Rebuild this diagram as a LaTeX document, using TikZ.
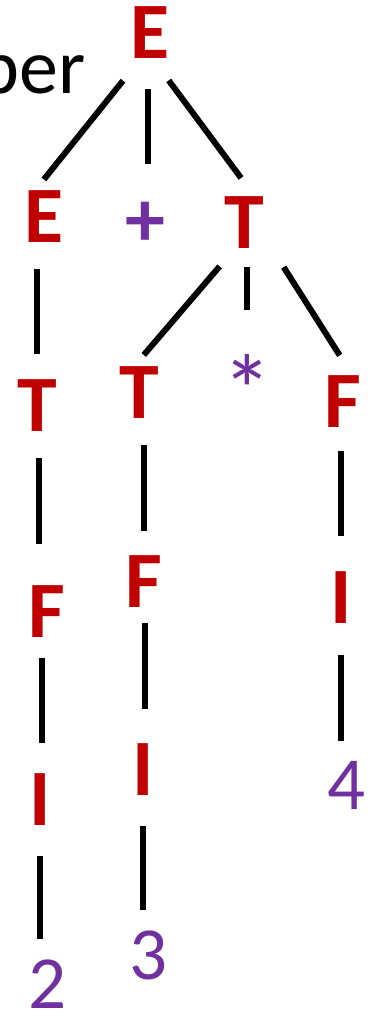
\documentclass[tikz,border=0pt]{standalone}
\usepackage{fontspec}
\setmainfont{Carlito}
\definecolor{ntred}{HTML}{C00000}
\definecolor{tmpurple}{HTML}{7030A0}

\begin{document}
\begin{tikzpicture}[x=1pt, y=-1pt, line width=6pt,
  nonterm/.style={inner sep=0pt, text=ntred, font=\bfseries\fontsize{80}{80}\selectfont},
  term/.style={inner sep=0pt, text=tmpurple, font=\bfseries\fontsize{80}{80}\selectfont},
  digit/.style={inner sep=0pt, text=tmpurple, font=\fontsize{75}{75}\selectfont}]
\useasboundingbox (0,0) rectangle (377,1013);
% word cut by the left edge
\node[inner sep=0pt, anchor=base west, font=\fontsize{78}{78}\selectfont] (word) at (-24,93) {ber};
% tree
\node[nonterm] (e0) at (150,33) {E};
\node[nonterm] (e1) at (44,217) {E};
\node[term] (plus) at (145,224) {+};
\node[nonterm] (t1) at (244,223) {T};
\node[nonterm] (t2) at (37,406) {T};
\node[nonterm] (t3) at (139,393) {T};
\node[term, font=\fontsize{100}{100}\selectfont] (star) at (247,390) {*};
\node[nonterm] (f3) at (343,402) {F};
\node[nonterm] (f1) at (47,612) {F};
\node[nonterm] (f2) at (144,582) {F};
\node[nonterm] (i3) at (341,598) {I};
\node[nonterm] (i1) at (40,800) {I};
\node[nonterm] (i2) at (143,770) {I};
\node[digit] (n4) at (347,785) {4};
\node[digit] (n2) at (48,984) {2};
\node[digit] (n3) at (149,955) {3};
% branches
\draw[shorten <=24pt, shorten >=11pt] ([xshift=-12pt]e0.south) -- ([xshift=-7pt]e1.north);
\draw[shorten <=27pt, shorten >=35pt] ([xshift=-2pt]e0.south) -- ([xshift=3pt]plus.north);
\draw[shorten <=23pt, shorten >=20pt] ([xshift=5pt]e0.south) -- ([xshift=9pt]t1.north);
\draw[shorten <=23pt, shorten >=23pt] (t2.north |- e1.south) -- (t2.north);
\draw[shorten <=19pt, shorten >=12pt] ([xshift=-12pt]t1.south) -- ([xshift=-3pt]t3.north);
\draw[shorten <=15pt, shorten >=42pt] (star.north |- t1.south) -- (star.north);
\draw[shorten <=18pt, shorten >=21pt] ([xshift=30pt]t1.south) -- ([xshift=8pt]f3.north);
\draw[shorten <=23pt, shorten >=39pt] ([xshift=2pt]t2.south) -- ([xshift=2pt]t2.south |- f1.north);
\draw[shorten <=23pt, shorten >=22pt] (f2.north |- t3.south) -- (f2.north);
\draw[shorten <=20pt, shorten >=33pt] (i3.north |- f3.south) -- (i3.north);
\draw[shorten <=17pt, shorten >=28pt] ([xshift=2pt]i1.north |- f1.south) -- ([xshift=2pt]i1.north);
\draw[shorten <=12pt, shorten >=32pt] ([xshift=2pt]i2.north |- f2.south) -- ([xshift=2pt]i2.north);
\draw[shorten <=28pt, shorten >=17pt] (i3.south) -- (i3.south |- n4.north);
\draw[shorten <=27pt, shorten >=18pt] (i1.south) -- (i1.south |- n2.north);
\draw[shorten <=27pt, shorten >=17pt] (i2.south) -- (i2.south |- n3.north);
\end{tikzpicture}
\end{document}
